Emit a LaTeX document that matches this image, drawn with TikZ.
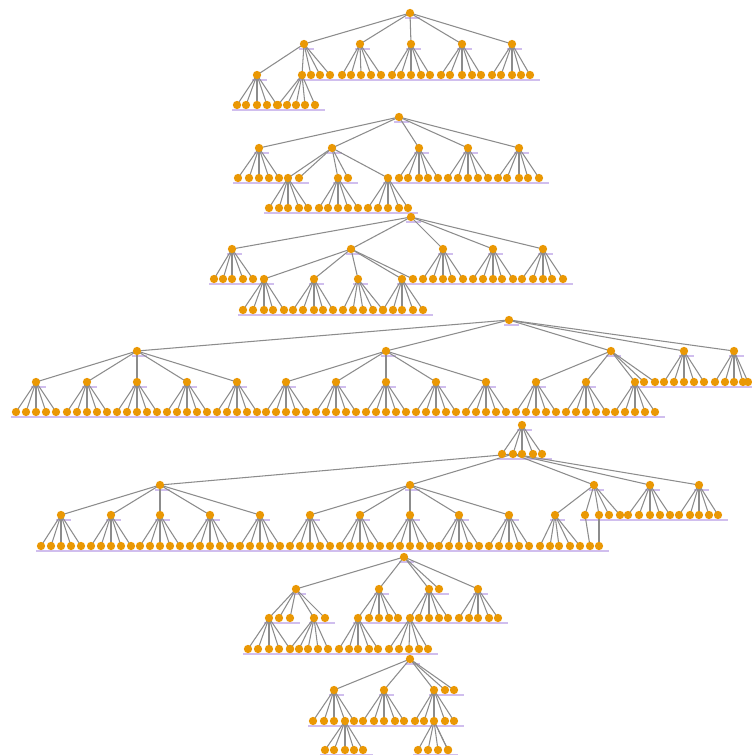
\documentclass[tikz,border=0pt]{standalone}
\usepackage{tikz}
\definecolor{dotc}{RGB}{234,152,4}
\definecolor{edgec}{RGB}{140,140,140}
\definecolor{labc}{RGB}{208,190,238}
\tikzset{
  dot/.style={circle,fill=dotc,inner sep=0pt,minimum size=8.3pt},
  edge/.style={draw=edgec,line width=1.05pt},
  smudge/.style={draw=labc,line width=2pt}
}
\newif\ifdotpass
\newcommand\rootnode[3]{%
  \ifdotpass
    \node[dot] (d-#1) at (#1) {};
  \else
    \coordinate (#1) at (#2,#3);
    \draw[smudge] ([shift={(-5pt,-4.5pt)}]#1) -- ++(15pt,0pt);
  \fi}
\newcommand\kids[3]{%
  \foreach \xx [count=\i] in {#3}{%
    \ifdotpass
      \node[dot] (d-#1-\i) at (#1-\i) {};
    \else
      \coordinate (#1-\i) at (\xx,#2);
      \draw[edge] (#1) -- (#1-\i);
      \draw[smudge] ([shift={(-5pt,-4.5pt)}]#1-\i) -- ++(15pt,0pt);
    \fi
  }}
\newcommand\kidsoff[3]{\kids{#1}{#2}{#3-20,#3-10,#3,#3+10,#3+20}}
\newcommand\alltrees{%
% ---------- tree 1
\rootnode{t1}{410}{13}
\kids{t1}{44}{304,360,411,462,512}
\kids{t1-1}{75}{257,302,311,320,330}
\kids{t1-2}{75}{342,351,361,371,381}
\kids{t1-3}{75}{392,401,411,421,430}
\kids{t1-4}{75}{441,450,462,472,481}
\kids{t1-5}{75}{492,501,512,521,530}
\kids{t1-1-1}{105}{237,246,257,267,277}
\kids{t1-1-2}{105}{278,287,296,305,315}
% ---------- tree 2
\rootnode{t2}{399}{117}
\kids{t2}{148}{259,332,419,468,519}
\kids{t2-1}{178}{238,249,259,269,279}
\kids{t2-2}{178}{288,299,338,348,388}
\kids{t2-3}{178}{399,408,419,428,438}
\kids{t2-4}{178}{448,458,468,478,488}
\kids{t2-5}{178}{498,507,519,528,539}
\kids{t2-2-1}{208}{269,279,288,299,308}
\kids{t2-2-3}{208}{319,328,338,348,358}
\kids{t2-2-5}{208}{368,378,388,399,408}
% ---------- tree 3
\rootnode{t3}{411}{217}
\kids{t3}{249}{232,351,443,493,543}
\kids{t3-1}{279}{214,223,232,243,253}
\kids{t3-2}{279}{264,314,358,402,413}
\kids{t3-3}{279}{423,433,443,452,463}
\kids{t3-4}{279}{473,483,493,502,513}
\kids{t3-5}{279}{522,533,543,552,563}
\kids{t3-2-1}{310}{243,253,264,273,284}
\kids{t3-2-2}{310}{293,303,314,323,333}
\kids{t3-2-3}{310}{343,353,363,373,383}
\kids{t3-2-4}{310}{383,393,402,413,423}
% ---------- tree 4
\rootnode{t4}{509}{320}
\kids{t4}{351}{137,386,611,684,734}
\kids{t4-1}{382}{36,87,137,187,237}
\kids{t4-2}{382}{286,336,386,436,486}
\kids{t4-3}{382}{536,586,635,644,655}
\kids{t4-4}{382}{664,674,684,694,704}
\kids{t4-5}{382}{715,725,734,743,748}
\kidsoff{t4-1-1}{412}{36}
\kidsoff{t4-1-2}{412}{87}
\kidsoff{t4-1-3}{412}{137}
\kidsoff{t4-1-4}{412}{187}
\kidsoff{t4-1-5}{412}{237}
\kidsoff{t4-2-1}{412}{286}
\kidsoff{t4-2-2}{412}{336}
\kidsoff{t4-2-3}{412}{386}
\kidsoff{t4-2-4}{412}{436}
\kidsoff{t4-2-5}{412}{486}
\kidsoff{t4-3-1}{412}{536}
\kidsoff{t4-3-2}{412}{586}
\kidsoff{t4-3-3}{412}{635}
% ---------- tree 5
\rootnode{t5}{522}{425}
\kids{t5}{454}{502,513,522,533,542}
\kids{t5-2}{485}{160,410,594,650,699}
\kids{t5-2-1}{515}{61,111,160,210,260}
\kids{t5-2-2}{515}{310,360,410,459,509}
\kids{t5-2-3}{515}{555,585,599,609,620}
\kids{t5-2-4}{515}{628,639,650,660,670}
\kids{t5-2-5}{515}{679,690,699,709,718}
\kidsoff{t5-2-1-1}{546}{61}
\kidsoff{t5-2-1-2}{546}{111}
\kidsoff{t5-2-1-3}{546}{160}
\kidsoff{t5-2-1-4}{546}{210}
\kidsoff{t5-2-1-5}{546}{260}
\kidsoff{t5-2-2-1}{546}{310}
\kidsoff{t5-2-2-2}{546}{360}
\kidsoff{t5-2-2-3}{546}{410}
\kidsoff{t5-2-2-4}{546}{459}
\kidsoff{t5-2-2-5}{546}{509}
\kids{t5-2-3-1}{546}{540,550,559,570,580}
\kids{t5-2-3-2}{546}{590}
\kids{t5-2-3-3}{546}{599}
% ---------- tree 6
\rootnode{t6}{404}{557}
\kids{t6}{589}{296,379,429,439,478}
\kids{t6-1}{618}{269,279,290,314,325}
\kids{t6-2}{618}{358,369,379,389,398}
\kids{t6-3}{618}{410,419,429,439,448}
\kids{t6-5}{618}{459,469,478,489,498}
\kids{t6-1-1}{649}{248,258,269,279,290}
\kids{t6-1-4}{649}{290,299,308,318,328}
\kids{t6-2-1}{649}{339,349,358,369,378}
\kids{t6-3-1}{649}{389,399,409,419,428}
% ---------- tree 7
\rootnode{t7}{410}{659}
\kids{t7}{690}{334,384,434,445,454}
\kids{t7-1}{721}{313,324,334,345,354}
\kids{t7-2}{721}{363,374,384,395,404}
\kids{t7-3}{721}{415,424,434,445,454}
\kids{t7-1-4}{750}{325,334,345,354,363}
\kids{t7-3-3}{750}{418,428,438,448,448}
}
\begin{document}
\begin{tikzpicture}[x=1pt,y=-1pt]
\fill[white] (0,0) rectangle (752,755);
\useasboundingbox (0,0) rectangle (752,755);
\dotpassfalse
\alltrees
\dotpasstrue
\alltrees
\end{tikzpicture}
\end{document}
